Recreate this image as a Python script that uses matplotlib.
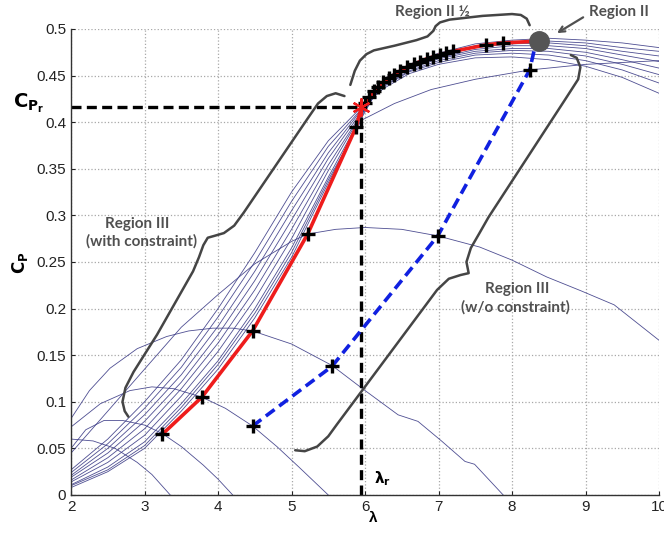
import matplotlib
matplotlib.use("Agg")
import matplotlib.pyplot as plt

# ---------------------------------------------------------------------
# Cp(lambda) curve family
# ---------------------------------------------------------------------
BUNDLE_LAMBDA = [2.0, 2.5, 3.0, 3.5, 4.0, 4.5, 5.0, 5.5, 5.95,
                 6.25, 6.6, 7.0, 7.5, 8.0, 8.5, 9.0, 9.5, 10.0]

BUNDLE_CP = [
    [0.027, 0.060, 0.100, 0.145, 0.200, 0.260, 0.325, 0.380, 0.416,
     0.436, 0.452, 0.462, 0.469, 0.470, 0.467, 0.460, 0.448, 0.431],
    [0.024, 0.055, 0.093, 0.137, 0.191, 0.250, 0.315, 0.374, 0.414,
     0.438, 0.454, 0.464, 0.472, 0.474, 0.472, 0.466, 0.456, 0.442],
    [0.021, 0.050, 0.086, 0.129, 0.181, 0.240, 0.305, 0.367, 0.413,
     0.439, 0.455, 0.466, 0.474, 0.477, 0.476, 0.471, 0.462, 0.451],
    [0.019, 0.045, 0.079, 0.121, 0.172, 0.230, 0.295, 0.361, 0.411,
     0.441, 0.457, 0.468, 0.476, 0.479, 0.479, 0.475, 0.467, 0.458],
    [0.016, 0.040, 0.071, 0.114, 0.163, 0.220, 0.285, 0.354, 0.409,
     0.442, 0.458, 0.469, 0.478, 0.482, 0.482, 0.479, 0.472, 0.465],
    [0.014, 0.035, 0.064, 0.106, 0.154, 0.210, 0.275, 0.348, 0.408,
     0.443, 0.459, 0.471, 0.480, 0.484, 0.485, 0.482, 0.476, 0.471],
    [0.011, 0.030, 0.057, 0.098, 0.144, 0.200, 0.265, 0.341, 0.406,
     0.445, 0.461, 0.472, 0.482, 0.486, 0.487, 0.485, 0.480, 0.476],
    [0.008, 0.025, 0.050, 0.090, 0.135, 0.190, 0.255, 0.335, 0.404,
     0.446, 0.462, 0.474, 0.484, 0.488, 0.490, 0.488, 0.485, 0.480],
]

# Higher-pitch curves (lower peaks)
S1_LAMBDA = [2.0, 2.3, 2.6, 2.9, 3.1, 3.35]
S1_CP = [0.060, 0.058, 0.050, 0.035, 0.022, 0.0]

S2_LAMBDA = [2.0, 2.2, 2.45, 2.7, 3.0, 3.24, 3.5, 3.8, 4.0, 4.2]
S2_CP = [0.050, 0.070, 0.080, 0.080, 0.075, 0.066, 0.052, 0.032, 0.017, 0.0]

S3_LAMBDA = [2.0, 2.4, 2.8, 3.1, 3.4, 3.78, 4.1, 4.47, 4.8, 5.1, 5.5]
S3_CP = [0.073, 0.098, 0.112, 0.116, 0.114, 0.105, 0.093, 0.074, 0.052, 0.030, 0.0]

S4_LAMBDA = [2.0, 2.25, 2.53, 2.9, 3.3, 3.6, 3.93, 4.2, 4.47, 5.0, 5.55,
             5.95, 6.45, 6.72, 7.04, 7.36, 7.49, 7.88]
S4_CP = [0.082, 0.112, 0.136, 0.157, 0.170, 0.176, 0.179, 0.179, 0.176, 0.162,
         0.139, 0.115, 0.086, 0.079, 0.058, 0.036, 0.033, 0.0]

S5_LAMBDA = [2.0, 2.5, 3.0, 3.5, 4.0, 4.5, 5.0, 5.22, 5.6, 6.0, 6.5, 6.99,
             7.56, 8.0, 8.47, 8.94, 9.39, 10.0]
S5_CP = [0.045, 0.090, 0.135, 0.180, 0.215, 0.248, 0.272, 0.280, 0.285, 0.287,
         0.285, 0.278, 0.266, 0.252, 0.234, 0.219, 0.204, 0.166]

S6_LAMBDA = [2.0, 2.5, 3.0, 3.5, 4.0, 4.5, 5.0, 5.5, 5.95, 6.4, 6.9, 7.5,
             8.24, 9.0, 10.0]
S6_CP = [0.010, 0.027, 0.053, 0.094, 0.140, 0.195, 0.260, 0.338, 0.402, 0.420,
         0.435, 0.446, 0.456, 0.462, 0.466]

# Operating trajectory with the Cp constraint (red)
RED_LAMBDA = [3.24, 3.78, 4.47, 5.22, 5.88, 5.95, 6.00, 6.06, 6.12, 6.18, 6.25,
              6.32, 6.40, 6.48, 6.57, 6.66, 6.75, 6.84, 6.93, 7.02, 7.10,
              7.20, 7.65, 7.88, 8.37]
RED_CP = [0.065, 0.105, 0.176, 0.280, 0.395, 0.416, 0.421, 0.427, 0.433, 0.438,
          0.443, 0.447, 0.451, 0.455, 0.459, 0.462, 0.465, 0.468, 0.470, 0.472,
          0.474, 0.476, 0.483, 0.485, 0.487]
RED_MARK_LAMBDA = [3.24, 3.78, 4.47, 5.22, 5.88, 6.00, 6.06, 6.12, 6.18, 6.25,
                   6.32, 6.40, 6.48, 6.57, 6.66, 6.75, 6.84, 6.93, 7.02, 7.10,
                   7.20, 7.65, 7.88]
RED_MARK_CP = [0.065, 0.105, 0.176, 0.280, 0.395, 0.421, 0.427, 0.433, 0.438,
               0.443, 0.447, 0.451, 0.455, 0.459, 0.462, 0.465, 0.468, 0.470,
               0.472, 0.474, 0.476, 0.483, 0.485]

# Operating trajectory without the constraint (blue)
BLUE_LAMBDA = [4.47, 5.55, 6.99, 8.24, 8.33]
BLUE_CP = [0.074, 0.138, 0.278, 0.456, 0.487]

LAMBDA_R = 5.95
CP_R = 0.416
REGION_II = (8.37, 0.487)

# Curly braces marking the regions
BRACE_II_HALF_X = [5.80, 5.86, 5.93, 6.02, 6.12, 6.40, 6.70, 6.85, 6.93, 6.96,
                   7.02, 7.15, 7.60, 8.00, 8.12, 8.20, 8.24]
BRACE_II_HALF_Y = [0.440, 0.455, 0.466, 0.473, 0.477, 0.482, 0.488, 0.492, 0.498,
                   0.503, 0.507, 0.510, 0.514, 0.516, 0.515, 0.511, 0.504]

BRACE_WITH_X = [5.72, 5.60, 5.48, 5.36, 5.22, 4.35, 4.22, 4.08, 3.95, 3.86,
                3.80, 3.74, 3.66, 3.17, 2.85, 2.74, 2.70, 2.73, 2.78]
BRACE_WITH_Y = [0.428, 0.431, 0.428, 0.420, 0.404, 0.303, 0.289, 0.281, 0.278,
                0.276, 0.268, 0.255, 0.240, 0.172, 0.132, 0.115, 0.100, 0.090,
                0.084]

BRACE_WO_X = [8.80, 8.88, 8.93, 8.90, 8.72, 7.68, 7.55, 7.44, 7.38, 7.41,
              7.30, 7.14, 6.98, 5.62, 5.50, 5.35, 5.18, 5.05]
BRACE_WO_Y = [0.472, 0.469, 0.459, 0.446, 0.424, 0.298, 0.280, 0.265, 0.250,
              0.238, 0.236, 0.232, 0.220, 0.076, 0.063, 0.052, 0.047, 0.048]

CURVE_COLOR = "#3b3b86"
BRACE_COLOR = "#454545"
LABEL_FONT = ["Lato", "DejaVu Sans"]


def main() -> None:
    plt.rcParams["font.family"] = ["Liberation Sans", "DejaVu Sans"]

    fig = plt.figure(figsize=(6.64, 5.36), dpi=100)
    ax = fig.add_axes([0.107, 0.0765, 0.8855, 0.8695])

    # Cp curve family
    for row in BUNDLE_CP:
        ax.plot(BUNDLE_LAMBDA, row, color=CURVE_COLOR, linewidth=0.6, alpha=0.9)
    for lam, cp in [(S1_LAMBDA, S1_CP), (S2_LAMBDA, S2_CP), (S3_LAMBDA, S3_CP),
                    (S4_LAMBDA, S4_CP), (S5_LAMBDA, S5_CP), (S6_LAMBDA, S6_CP)]:
        ax.plot(lam, cp, color=CURVE_COLOR, linewidth=0.6, alpha=0.9)

    # Rated point guides
    ax.plot([2.0, LAMBDA_R], [CP_R, CP_R], color="black", linewidth=2.4,
            linestyle=(0, (3, 1.6)))
    ax.plot([LAMBDA_R, LAMBDA_R], [0.0, CP_R], color="black", linewidth=2.4,
            linestyle=(0, (3, 1.6)))

    # Trajectories
    ax.plot(BLUE_LAMBDA, BLUE_CP, color="#1020e0", linewidth=2.6,
            linestyle=(0, (3, 1.6)))
    ax.plot(RED_LAMBDA, RED_CP, color="#ee1c1c", linewidth=2.6)
    ax.plot(BLUE_LAMBDA[:-1], BLUE_CP[:-1], linestyle="none", marker="+",
            markersize=10, markeredgewidth=2.4, color="black")
    ax.plot(RED_MARK_LAMBDA, RED_MARK_CP, linestyle="none", marker="+",
            markersize=10, markeredgewidth=2.4, color="black")
    ax.plot([LAMBDA_R], [CP_R], linestyle="none", marker=(6, 2, 0),
            markersize=13, markeredgewidth=1.6, color="#ee1c1c")
    ax.plot([REGION_II[0]], [REGION_II[1]], linestyle="none", marker="o",
            markersize=14, color="#555555", clip_on=False, zorder=5)

    # Braces
    for bx, by in [(BRACE_II_HALF_X, BRACE_II_HALF_Y), (BRACE_WITH_X, BRACE_WITH_Y),
                   (BRACE_WO_X, BRACE_WO_Y)]:
        ax.plot(bx, by, color=BRACE_COLOR, linewidth=1.8, clip_on=False,
                solid_capstyle="round")

    # Region labels
    text_kw = dict(family=LABEL_FONT, fontweight="bold", fontsize=11,
                   color="#505050", ha="center", va="center")
    ax.text(6.92, 0.518, "Region II ½", clip_on=False, **text_kw)
    ax.text(9.05, 0.518, "Region II", clip_on=False,
            **{**text_kw, "ha": "left"})
    ax.text(2.90, 0.291, "Region III", **text_kw)
    ax.text(2.96, 0.272, "(with constraint)", **text_kw)
    ax.text(8.07, 0.221, "Region III", **text_kw)
    ax.text(8.05, 0.201, "(w/o constraint)", **text_kw)
    ax.annotate("", xy=(8.58, 0.494), xytext=(9.0, 0.514),
                annotation_clip=False,
                arrowprops=dict(arrowstyle="->", color="#505050", linewidth=1.6))

    ax.text(6.24, 0.018, r"$\mathbf{\lambda_r}$", fontsize=11, ha="center",
            va="center")

    # Axes styling
    ax.set_xlim(2, 10)
    ax.set_ylim(0, 0.5)
    ax.set_xticks(range(2, 11))
    ax.set_yticks([0, 0.05, 0.1, 0.15, 0.2, 0.25, 0.3, 0.35, 0.4, 0.45, 0.5])
    ax.set_yticklabels(["0", "0.05", "0.1", "0.15", "0.2", "0.25", "0.3",
                        "0.35", "0.4", "0.45", "0.5"])
    ax.tick_params(direction="in", length=3, labelsize=11, colors="#222222",
                   top=False, right=False)
    ax.grid(True, linestyle=":", linewidth=0.9, color="#a8a8a8")
    ax.set_axisbelow(True)
    for side in ["top", "right"]:
        ax.spines[side].set_visible(False)
    for side in ["left", "bottom"]:
        ax.spines[side].set_color("#333333")
        ax.spines[side].set_linewidth(1.0)

    ax.text(0.514, -0.05, "λ", transform=ax.transAxes, ha="center",
            va="center", fontsize=11, fontweight="bold")
    ax.text(-0.087, 0.498, r"$\mathbf{C_P}$", transform=ax.transAxes,
            ha="center", va="center", fontsize=12, rotation=90)
    ax.text(-0.072, 0.84, r"$\mathbf{C_{P_r}}$", transform=ax.transAxes,
            ha="center", va="center", fontsize=14)

    fig.savefig("out.png", dpi=100)


if __name__ == "__main__":
    main()
